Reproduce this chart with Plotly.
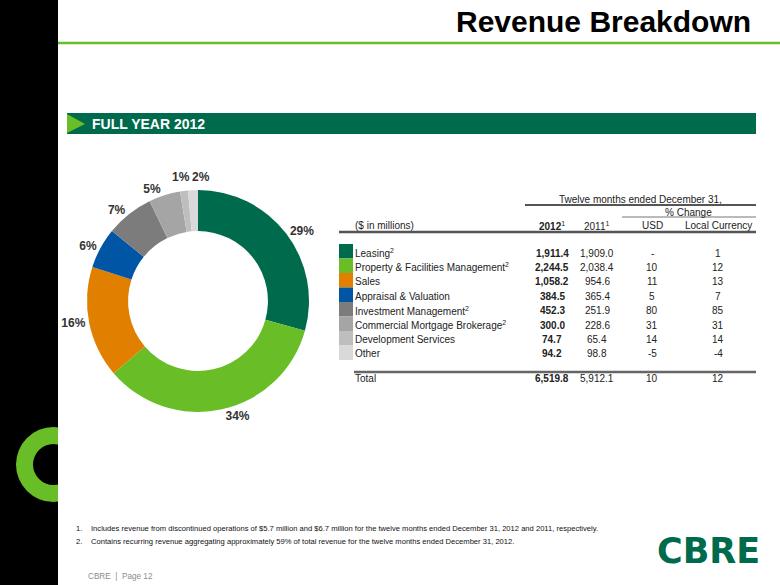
import math
import plotly.graph_objects as go

# ---------------- data ----------------
categories = ["Leasing", "Property & Facilities Management", "Sales",
              "Appraisal & Valuation", "Investment Management",
              "Commercial Mortgage Brokerage", "Development Services", "Other"]
category_notes = ["2", "2", "", "", "2", "2", "", ""]
rev_2012 = [1911.4, 2244.5, 1058.2, 384.5, 452.3, 300.0, 74.7, 94.2]
rev_2011 = [1909.0, 2038.4, 954.6, 365.4, 251.9, 228.6, 65.4, 98.8]
change_usd = ["-", "10", "11", "5", "80", "31", "14", "-5"]
change_local = ["1", "12", "13", "7", "85", "31", "14", "-4"]
pie_labels = ["29%", "34%", "16%", "6%", "7%", "5%", "1%", "2%"]
total_2012 = 6519.8
total_2011 = 5912.1
total_usd = "10"
total_local = "12"
footnotes = [
    "Includes revenue from discontinued operations of $5.7 million and $6.7 million for the twelve months ended December 31, 2012 and 2011, respectively.",
    "Contains recurring revenue aggregating approximately 59% of total revenue for the twelve months ended December 31, 2012.",
]

# ---------------- styles ----------------
colors = ["#006A4D", "#69BE28", "#E07F00", "#0055A5",
          "#7C7C7C", "#A5A5A5", "#BEBEBE", "#D9D9D9"]
W, H = 780, 585
FONT = "Liberation Sans, Arial, sans-serif"
DARK_GREEN = "#006A4D"
LIGHT_GREEN = "#69BE28"

# donut geometry (pixels)
PIE_CX, PIE_CY, PIE_R = 198, 301, 111


def X(px):
    return px / W


def Y(py):
    return 1 - py / H


fig = go.Figure()

# the two thinnest slices get their labels placed side by side below
text_pos = ["outside" if v / sum(rev_2012) > 0.02 else "none" for v in rev_2012]

fig.add_trace(go.Pie(
    labels=categories,
    values=rev_2012,
    text=pie_labels,
    textinfo="text",
    textposition=text_pos,
    sort=False,
    direction="clockwise",
    rotation=0,
    hole=0.63,
    marker=dict(colors=colors, line=dict(width=0)),
    outsidetextfont=dict(family=FONT, size=12, color="#333333"),
    texttemplate="<b>%{text}</b>",
    domain=dict(x=[X(PIE_CX - PIE_R), X(PIE_CX + PIE_R)],
                y=[Y(PIE_CY + PIE_R), Y(PIE_CY - PIE_R)]),
    showlegend=False,
    hoverinfo="label+value",
))

shapes = []
annotations = []


def rect(x0, y0, x1, y1, color, layer="below"):
    shapes.append(dict(type="rect", xref="paper", yref="paper",
                       x0=X(x0), x1=X(x1), y0=Y(y1), y1=Y(y0),
                       fillcolor=color, line=dict(width=0), layer=layer))


def hline(x0, x1, y, color, width):
    shapes.append(dict(type="line", xref="paper", yref="paper",
                       x0=X(x0), x1=X(x1), y0=Y(y), y1=Y(y),
                       line=dict(color=color, width=width), layer="above"))


def text(x, y, s, size=10, color="#222222", anchor="left", family=FONT):
    annotations.append(dict(x=X(x), y=Y(y), xref="paper", yref="paper",
                            text=s, showarrow=False, xanchor=anchor,
                            yanchor="middle", borderpad=0,
                            font=dict(family=family, size=size, color=color)))


# labels of the two thin slices, on either side of their shared boundary
total_val = sum(rev_2012)
small = [i for i, p in enumerate(text_pos) if p == "none"]
if len(small) == 2:
    frac = sum(rev_2012[:small[1]]) / total_val
    ang = 2 * math.pi * frac
    lx = PIE_CX + (PIE_R + 14) * math.sin(ang)
    ly = PIE_CY - (PIE_R + 14) * math.cos(ang)
    text(lx + 4, ly, f"<b>{pie_labels[small[0]]}</b>", size=12, color="#333333", anchor="right")
    text(lx + 4, ly, f"<b>{pie_labels[small[1]]}</b>", size=12, color="#333333", anchor="left")

# left black bar and green "C" ornament
rect(0, 0, 58, H, "#000000")
shapes.append(dict(type="circle", xref="paper", yref="paper",
                   x0=X(16), x1=X(91), y0=Y(502), y1=Y(427),
                   fillcolor=LIGHT_GREEN, line=dict(width=0), layer="below"))
shapes.append(dict(type="circle", xref="paper", yref="paper",
                   x0=X(33), x1=X(74), y0=Y(485), y1=Y(444),
                   fillcolor="#000000", line=dict(width=0), layer="below"))
rect(58, 420, 100, 510, "#FFFFFF")

# title
text(752, 22, "<b>Revenue Breakdown</b>", size=30, color="#000000", anchor="right")
hline(58, 780, 43, LIGHT_GREEN, 2.5)

# banner
rect(67, 113, 756, 134, DARK_GREEN)
shapes.append(dict(type="path", xref="paper", yref="paper",
                   path=f"M {X(67)},{Y(114)} L {X(85)},{Y(124)} L {X(67)},{Y(133)} Z",
                   fillcolor=LIGHT_GREEN, line=dict(width=0), layer="above"))
text(91, 124, "<b>FULL YEAR 2012</b>", size=14, color="#FFFFFF")

# table header
COL_LABEL = 354
COL_2012 = 552
COL_2011 = 597
COL_USD = 652
COL_LOCAL = 718
text(640, 199, "Twelve months ended December 31,", anchor="center")
hline(525, 756, 205, "#555555", 2)
text(688, 212, "% Change", anchor="center")
hline(622, 756, 217, "#777777", 1)
text(COL_LABEL, 226, "($ in millions)")
text(COL_2012, 226, "<b>2012</b><sup>1</sup>", anchor="center")
text(COL_2011, 226, "2011<sup>1</sup>", anchor="center")
text(COL_USD, 226, "USD", anchor="center")
text(COL_LOCAL, 226, "Local Currency", anchor="center")
hline(339, 756, 232, "#555555", 2.5)

# table rows
row_y0 = 253
row_step = 14.4
sw_top = 244
sw_step = 14.5
for i, cat in enumerate(categories):
    y = row_y0 + i * row_step
    rect(339, sw_top + i * sw_step, 353, sw_top + (i + 1) * sw_step, colors[i])
    label = cat + (f"<sup>{category_notes[i]}</sup>" if category_notes[i] else "")
    text(COL_LABEL, y, label)
    text(COL_2012, y, f"<b>{rev_2012[i]:,.1f}</b>", anchor="center")
    text(COL_2011, y, f"{rev_2011[i]:,.1f}", anchor="center")
    text(COL_USD, y, change_usd[i], anchor="center")
    text(COL_LOCAL, y, change_local[i], anchor="center")

hline(354, 756, 372, "#666666", 2.5)
text(COL_LABEL, 378, "Total")
text(COL_2012, 378, f"<b>{total_2012:,.1f}</b>", anchor="center")
text(COL_2011, 378, f"{total_2011:,.1f}", anchor="center")
text(COL_USD, 378, total_usd, anchor="center")
text(COL_LOCAL, 378, total_local, anchor="center")

# footnotes
for i, note in enumerate(footnotes):
    y = 528 + i * 13
    text(75, y, f"{i + 1}.", size=7.6, color="#111111")
    text(90, y, note, size=7.6, color="#111111")

text(87, 576, "CBRE  |  Page 12", size=8.2, color="#8C8C8C")

# CBRE logo
text(708, 551, "<b>CBRE</b>", size=35, color=DARK_GREEN, anchor="center",
     family="DejaVu Sans, Liberation Sans, sans-serif")

fig.update_layout(
    width=W, height=H,
    margin=dict(l=0, r=0, t=0, b=0),
    paper_bgcolor="#FFFFFF",
    plot_bgcolor="#FFFFFF",
    shapes=shapes,
    annotations=annotations,
    showlegend=False,
    font=dict(family=FONT),
)

fig.write_html("out.html", config={"displayModeBar": False},
               post_script="document.body.style.margin='0';")
